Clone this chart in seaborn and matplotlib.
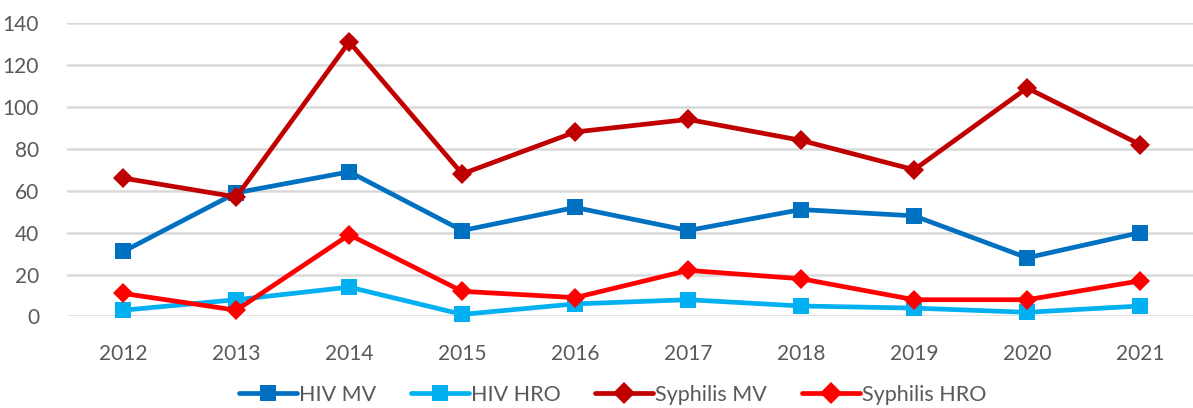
import matplotlib
matplotlib.use("Agg")
import matplotlib.pyplot as plt
import pandas as pd
import seaborn as sns

years = [2012, 2013, 2014, 2015, 2016, 2017, 2018, 2019, 2020, 2021]
hiv_mv = [31, 59, 69, 41, 52, 41, 51, 48, 28, 40]
hiv_hro = [3, 8, 14, 1, 6, 8, 5, 4, 2, 5]
syph_mv = [66, 57, 131, 68, 88, 94, 84, 70, 109, 82]
syph_hro = [11, 3, 39, 12, 9, 22, 18, 8, 8, 17]

series_names = ["HIV MV", "HIV HRO", "Syphilis MV", "Syphilis HRO"]
colors = ["#0070C0", "#00B0F0", "#C00000", "#FF0000"]
markers = ["s", "s", "D", "D"]

frames = []
for name, vals in zip(series_names, [hiv_mv, hiv_hro, syph_mv, syph_hro]):
    frames.append(pd.DataFrame({"year": years, "value": vals, "series": name}))
df = pd.concat(frames, ignore_index=True)

sns.set_style("white")
plt.rcParams["font.family"] = ["Lato", "DejaVu Sans"]

fig = plt.figure(figsize=(11.93, 4.08), dpi=100)
ax = fig.add_axes([0.056, 0.2243, 0.947, 0.7194])

sns.lineplot(
    data=df, x="year", y="value", hue="series", style="series",
    hue_order=series_names, style_order=series_names,
    palette=dict(zip(series_names, colors)),
    markers=dict(zip(series_names, markers)),
    dashes=False, linewidth=3.4, markersize=11, markeredgewidth=0,
    ax=ax, clip_on=False, zorder=3,
)

# diamonds a bit smaller than squares
for line, name in zip(ax.get_lines(), series_names):
    if name.startswith("Syphilis"):
        line.set_markersize(10)

ax.set_xlim(2011.5, 2021.5)
ax.set_ylim(0, 140)
ax.set_yticks(range(0, 141, 20))
ax.set_xticks(years)
ax.set_xticklabels([str(y) for y in years])
ax.yaxis.grid(True, color="#D9D9D9", linewidth=1.8)
ax.set_axisbelow(True)
for s in ax.spines.values():
    s.set_visible(False)
ax.tick_params(axis="both", length=0, labelsize=15, labelcolor="#595959")
ax.tick_params(axis="x", pad=20)
ax.tick_params(axis="y", pad=20)
ax.set_xlabel("")
ax.set_ylabel("")

handles, labels = ax.get_legend_handles_labels()
for h in handles:
    h.set_linewidth(3.4)
ax.legend(handles, labels, loc="center", bbox_to_anchor=(0.483, -0.267),
          ncol=4, frameon=False, fontsize=15.5, labelcolor="#595959",
          handlelength=2.7, handletextpad=0.1, columnspacing=1.6)

fig.savefig("out.png", dpi=100)
